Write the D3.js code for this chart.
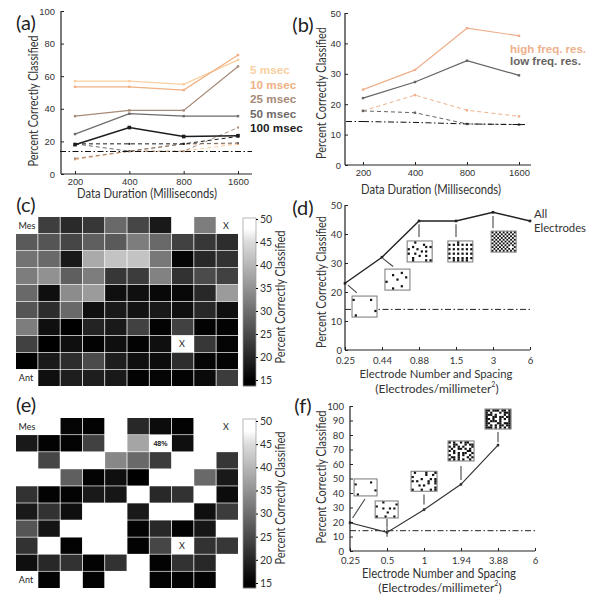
<!DOCTYPE html>
<html><head><meta charset="utf-8">
<script src="https://cdnjs.cloudflare.com/ajax/libs/d3/7.8.5/d3.min.js"></script>
<style>
html,body{margin:0;padding:0;background:#fff}
text{font-family:Lato,"Open Sans",sans-serif;fill:#333}
</style></head><body><svg id="c" width="600" height="597"></svg>
<script>
// ---------- data ----------
const durations=["200","400","800","1600"];
const msecLabels=["5 msec","10 msec","25 msec","50 msec","100 msec"];
const msecColors=["#f9cf9f","#eeb084","#a78a78","#6f6a67","#1c1c1c"];
const aSolid=[[57,57,55,70],[53.5,53.5,51.5,73],[35.5,39,39,66],[24.5,37,35.5,35.5],[18,28.5,23,23.5]];
const aDashed=[[9,14,14,18.5],[9,14,18.5,18.5],[9.5,14,14,28.5],[18.5,14,18.5,19],[18.5,18.5,18.5,23]];
const aChance=[13.8,13.8,13.8,13.8];
const freqLabels=["high freq. res.","low freq. res."];
const freqColors=["#eeb08c","#666462"];
const bSolid=[[24.8,31.3,45,42.5],[22,27.3,34.3,29.5]];
const bDashed=[[17.8,23,18,16],[17.8,17.2,13.5,13.3]];
const bChance=[14.3,14,13.5,13.3];
const dTicks=["0.25","0.44","0.88","1.5","3","6"];
const dValues=[23,32,44.5,44.5,47.5,44.5];
const dChance=14;
const fTicks=["0.25","0.5","1","1.94","3.88","6"];
const fValues=[19.5,12.8,28.5,46,73];
const fErr=[1,3,1,1,1];
const fChance=14;
const n=null;
const cGrid=[
[n,23.5,20.8,22.5,29.4,24.6,18.4,n,32.2,n],
[27.4,26.7,24.6,28,27.4,32.2,29.4,23.9,22.5,21.2],
[30.8,29.4,18.4,38.3,41.8,41.8,31.5,15.7,20.5,21.9],
[32.2,34.9,28,32.2,22.5,23.2,32.8,21.9,25.3,23.9],
[29.4,17.1,34.2,36.3,17.1,17.1,16.1,16.1,20.5,36.3],
[26.7,21.2,29.4,17.1,18.4,17.5,18.4,17.1,20.5,17.1],
[32.2,17.1,15,19.8,18.4,23.9,15.4,23.9,15.4,15.4],
[23.9,15,17.1,15.4,17.1,15.4,17.1,n,22.5,15.7],
[15,18.4,21.2,25.3,19.1,17.1,16.6,21.2,15.7,15.4],
[n,17.1,19.1,19.1,18.4,15.4,15.7,15.4,16.4,23.2]];
const eGrid=[
[n,n,15.7,15.4,n,20.5,16.6,15.4,n,n],
[18.4,15.4,15.4,23.9,n,37.6,48,17.1,n,n],
[n,24.6,n,n,33.5,29.4,23.2,n,n,22.5],
[n,n,28,15.4,17.1,15,n,n,29.4,18.4],
[21.9,15.4,15.4,18.4,18,n,20.5,21.9,n,16.6],
[18.4,21.9,17.1,n,n,18.4,n,n,17.1,23.2],
[26.7,17.7,n,n,n,15.4,20.5,15.4,18,n],
[21.9,n,15.4,n,n,15.4,24.6,n,21.9,22.5],
[17.1,20.5,21.9,15.4,21.9,n,15.4,21.9,20.5,n],
[n,15.4,n,15.4,n,n,15.4,15.4,15.4,n]];
const cbTicks=[50,45,40,35,30,25,20,15];
const dThumbs=[
{at:[0.19,18.6],bm:["...........","#.......#..","...........","...........","...........","...........","..........#","...........",".#........."]},
{at:[1.08,27.9],bm:["...........",".......#...","...#.......",".........#.",".....#.....","#..........","...........",".......#...","...#......."]},
{at:[1.68,37.6],bm:["...#.......",".......#...","..#.....#.#","#...#......","......#.#..","#..#.......",".....#..#..","..#........","..#.....#.#"]},
{at:[2.78,37.6],bm:["....#......","#.#.#.#.#.#","...........","#.#.#.#.#.#","...........","#.#.#.#.#.#","...........","#.#.#.#.#.#","..#.#.#.#.."]},
{at:[3.95,41],bm:["#.#.#.#.#.#.#",".#.#.#.#.#.#.","#.#.#.#.#.#.#",".#.#.#.#.#.#.","#.#.#.#.#.#.#",".#.#.#.#.#.#.","#.#.#.#.#.#.#",".#.#.#.#.#.#.","#.#.#.#.#...#",".#.#.#.#.#.#.","#.#.#.#.#.#.#"]}];
const fThumbs=[
{at:[0.11,49.7],h:17,w:23,bm:["..........",".......#..","#.........","..........","..........",".........#","..........",".#........"]},
{at:[0.68,34.5],h:17,w:23,bm:["...#......",".........#","#.........","...#..#.#.","..........",".....#....","..........","#...#...#."]},
{at:[1.65,55],h:20,w:26,bm:[".#....#...#","......#..#.","#..........","....#...#.#","#.#....#..#",".......#..#","...#.#.....","..........#","#...#...#.#"]},
{at:[2.65,75.9],h:20,w:26,bm:["#.#..#.##..","..##...#.##","#.#.#.#...#",".#..##.#.#.","#.#.....##.","..#.#.##..#","#...#.#..#.",".##.#...#.#","#.#.#.#..#."]},
{at:[3.65,97.9],h:20,w:26,bm:["##.###.##.#","#.#...#.###","###.#...#.#","#..##.##.##","##.#..#.#.#","#.###.#...#","##...##.###","#.#.#.##.##","###.#.#.#.#"]}];
const dLeaders=[[0.08,22.4,0.32,19.7],[1.03,31.5,1.3,28.8],[2,43.4,2,39],[3,43.4,3,39],[4,46.2,4,42]];
const fLeaders=[[0.07,22.8,0.405,35.9],[1,16,1,22],[2,32,2,39],[3,49,3,58.6],[4,75,4,82]];

// ---------- helpers ----------
const svg=d3.select("#c");
const DASHDOT="6,2.5,1.5,2.5",DASH="4,3";
function txt(x,y,s,o={}){const t=svg.append("text").attr("x",x).attr("y",y).attr("text-anchor",o.a||"middle")
 .attr("dominant-baseline","central").style("font-size",(o.s||12)+"px").text(s);
 if(o.c)t.style("fill",o.c); if(o.w)t.style("font-weight",o.w); if(o.f)t.style("font-family",o.f);
 if(o.len)t.attr("textLength",o.len).attr("lengthAdjust","spacingAndGlyphs");
 if(o.rot)t.attr("transform",`rotate(-90 ${x} ${y})`); return t;}
function axes(x,y,xExt,yExt,xFmt,yt,o={}){
 const g=svg.append("g");
 const ax=g.append("g").attr("transform",`translate(0,${yExt[0]})`).call(d3.axisBottom(x).tickSizeInner(-3).tickSizeOuter(0).tickPadding(o.xp).tickFormat(xFmt));
 const ay=g.append("g").attr("transform",`translate(${xExt[0]},0)`).call(d3.axisLeft(y).tickValues(yt).tickSizeInner(-3).tickSizeOuter(0).tickPadding(o.yp));
 [ax,ay].forEach(a=>{a.select(".domain").remove();a.selectAll(".tick line").attr("stroke","#222").attr("stroke-width",1);
  a.selectAll("text").style("font-size",(o.fs||9.5)+"px").style("font-family",o.ff||null).style("fill","#333");});
 g.append("line").attr("x1",xExt[0]).attr("x2",xExt[1]).attr("y1",yExt[0]).attr("y2",yExt[0]).attr("stroke","#222").attr("stroke-width",1.2);
 g.append("line").attr("x1",xExt[0]).attr("x2",xExt[0]).attr("y1",yExt[0]).attr("y2",yExt[1]).attr("stroke","#222").attr("stroke-width",1.2);
}
function series(x,y,vals,col,o={}){
 const cats=x.domain().slice(0,vals.length);
 const l=d3.line().x((d,i)=>x(cats[i])).y(d=>y(d));
 svg.append("path").attr("d",l(vals)).attr("fill","none").attr("stroke",col).attr("stroke-width",o.w||1.2).attr("stroke-dasharray",o.dash||null);
 if(o.m!==0) svg.append("g").selectAll("rect").data(vals).join("rect")
  .attr("x",(d,i)=>x(cats[i])-(o.m||1.5)).attr("y",d=>y(d)-(o.m||1.5)).attr("width",2*(o.m||1.5)).attr("height",2*(o.m||1.5)).attr("fill",col);
}
function thumbs(x,y,list,leaders,dW,dH){
 svg.append("g").selectAll("line").data(leaders).join("line")
  .attr("x1",d=>x(d[0])).attr("y1",d=>y(d[1])).attr("x2",d=>x(d[2])).attr("y2",d=>y(d[3])).attr("stroke","#444").attr("stroke-width",1.1);
 list.forEach(t=>{
  const w=t.w||dW,h=t.h||dH,x0=x(t.at[0]),y0=y(t.at[1]);
  svg.append("rect").attr("x",x0).attr("y",y0).attr("width",w).attr("height",h).attr("fill","#fff").attr("stroke","#777").attr("stroke-width",1);
  const bx=d3.scaleBand().domain(d3.range(t.bm[0].length)).range([x0+.5,x0+w-.5]);
  const by=d3.scaleBand().domain(d3.range(t.bm.length)).range([y0+.5,y0+h-.5]);
  const pts=t.bm.flatMap((r,j)=>[...r].map((c,i)=>c==="#"?[i,j]:null).filter(Boolean));
  svg.append("g").selectAll("rect").data(pts).join("rect").attr("x",d=>bx(d[0])).attr("y",d=>by(d[1]))
   .attr("width",bx.bandwidth()).attr("height",by.bandwidth()).attr("fill","#111");
 });
}
const TITLE=12.5;
function heat(grid,top,bottom,barTop,barBot,tick50,tick15,titleY){
 const x=d3.scaleBand().domain(d3.range(10)).range([16,238]).paddingInner(.035);
 const y=d3.scaleBand().domain(d3.range(10)).range([top,bottom]).paddingInner(.04);
 const gray=d3.scaleLinear().domain([15,45,48]).range([0,218.6,255]).clamp(true);
 const col=v=>{const g=Math.round(gray(v));return `rgb(${g},${g},${g})`;};
 svg.append("g").selectAll("rect").data(grid.flatMap((r,j)=>r.map((v,i)=>({v,i,j}))).filter(d=>d.v!==null))
  .join("rect").attr("x",d=>x(d.i)).attr("y",d=>y(d.j)).attr("width",x.bandwidth()).attr("height",y.bandwidth()).attr("fill",d=>col(d.v));
 const cb=d3.scaleLinear().domain([15,50]).range([tick15,tick50]);
 const ys=d3.range(barTop,barBot);
 svg.append("g").selectAll("rect").data(ys).join("rect").attr("x",243).attr("width",13).attr("y",d=>d).attr("height",1.2)
  .attr("fill",d=>col(cb.invert(d)));
 svg.append("rect").attr("x",243).attr("y",barTop).attr("width",13).attr("height",barBot-barTop).attr("fill","none").attr("stroke","#999").attr("stroke-width",.7);
 const a=svg.append("g").attr("transform","translate(256,0)").call(d3.axisRight(cb).tickValues(cbTicks).tickSize(2).tickPadding(2));
 a.select(".domain").remove();
 a.selectAll("text").style("font-size","10.5px");
 txt(280,titleY,"Percent Correctly Classified",{rot:1,s:TITLE,len:133});
 txt(27,y(0)+y.bandwidth()/2,"Mes",{s:9,c:"#222"});
 txt(26,y(9)+y.bandwidth()/2,"Ant",{s:9,c:"#222"});
 txt(226,y(0)+y.bandwidth()/2,"X",{s:9,c:"#222"});
 txt(182,y(7)+y.bandwidth()/2,"X",{s:9,c:"#222"});
 return {x,y};
}
const TK="'Liberation Sans', sans-serif";

// ---------- panel a ----------
{const x=d3.scalePoint().domain(durations).range([75,238]),y=d3.scaleLinear().domain([0,100]).range([174,11]);
 aDashed.forEach((v,i)=>series(x,y,v,msecColors[i],{dash:DASH,w:1,m:1}));
 svg.append("line").attr("x1",60).attr("x2",252).attr("y1",y(aChance[0])).attr("y2",y(aChance[0])).attr("stroke","#111").attr("stroke-dasharray",DASHDOT);
 aSolid.forEach((v,i)=>series(x,y,v,msecColors[i],{w:i==4?1.5:1.2,m:i==4?1.8:1.2}));
 axes(x,y,[61,252],[174,11],d=>d,[0,20,40,60,80,100],{fs:9.4,ff:TK,xp:4,yp:6});
 txt(33,101,"Percent Correctly Classified",{rot:1,s:TITLE,len:131});
 txt(147,193,"Data Duration (Milliseconds)",{s:TITLE,len:140});
 msecLabels.forEach((s,i)=>txt(250,[69,84,98,113,127][i],s,{a:"start",s:11.7,w:"bold",c:msecColors[i],f:TK}));
}
// ---------- panel b ----------
{const x=d3.scalePoint().domain(durations).range([363,519]),y=d3.scaleLinear().domain([0,50]).range([165,13]);
 bDashed.forEach((v,i)=>series(x,y,v,freqColors[i],{dash:DASH,w:1,m:1.2}));
 bSolid.forEach((v,i)=>series(x,y,v,freqColors[i],{w:1.2,m:1.2}));
 const ex=d3.scaleLinear().domain([0,3]).range([363,519]);
 svg.append("path").attr("d",d3.line().x((d,i)=>ex(i)).y(d=>y(d))(bChance)).attr("fill","none").attr("stroke","#111").attr("stroke-dasharray",DASHDOT);
 svg.append("line").attr("x1",346).attr("x2",363).attr("y1",y(bChance[0])).attr("y2",y(bChance[0])).attr("stroke","#111").attr("stroke-dasharray",DASHDOT);
 svg.append("line").attr("x1",519).attr("x2",527).attr("y1",y(bChance[3])).attr("y2",y(bChance[3])).attr("stroke","#111").attr("stroke-dasharray",DASHDOT);
 axes(x,y,[345,531],[165,13],d=>d,[0,10,20,30,40,50],{fs:9.4,ff:TK,xp:4,yp:4});
 txt(321,93,"Percent Correctly Classified",{rot:1,s:TITLE,len:132});
 txt(431,189,"Data Duration (Milliseconds)",{s:TITLE,len:140});
 freqLabels.forEach((s,i)=>txt(510,[49,61][i],s,{a:"start",s:11.5,w:"bold",c:freqColors[i],f:TK}));
}
// ---------- panel c, e ----------
heat(cGrid,217,386,218,386,219,380,297);
{const h=heat(eGrid,418,588,419,588,421,583,498);
 txt(h.x(6)+h.x.bandwidth()/2,h.y(1)+h.y.bandwidth()/2,"48%",{s:7,c:"#222",w:"bold",f:TK});}
// ---------- panel d ----------
{const xi=d3.scaleLinear().domain([0,5]).range([345,530]),y=d3.scaleLinear().domain([0,50]).range([350,205]);
 const x=d3.scalePoint().domain(dTicks).range([345,530]);
 svg.append("line").attr("x1",345).attr("x2",530).attr("y1",y(dChance)).attr("y2",y(dChance)).attr("stroke","#222").attr("stroke-dasharray",DASHDOT);
 series(x,y,dValues,"#222",{w:1.4,m:1.3});
 thumbs(xi,y,dThumbs,dLeaders,25,21);
 axes(x,y,[345,530],[350,205],d=>d,[0,10,20,30,40,50],{fs:9.6,xp:7,yp:3});
 txt(534,213,"All",{a:"start",s:11.5}); txt(534,227,"Electrodes",{a:"start",s:11.5,len:52});
 txt(321,282,"Percent Correctly Classified",{rot:1,s:TITLE,len:132});
 txt(436,373.5,"Electrode Number and Spacing",{s:12,len:153});
 const t=txt(437,388,"(Electrodes/millimeter",{s:12});
 t.append("tspan").attr("dy",-4).style("font-size","7px").text("2");
 t.append("tspan").attr("dy",4).text(")");
}
// ---------- panel f ----------
{const xi=d3.scaleLinear().domain([0,5]).range([350,535]),y=d3.scaleLinear().domain([0,100]).range([551,406]);
 const x=d3.scalePoint().domain(fTicks).range([350,535]);
 svg.append("line").attr("x1",350).attr("x2",535).attr("y1",y(fChance)).attr("y2",y(fChance)).attr("stroke","#222").attr("stroke-dasharray",DASHDOT);
 series(x,y,fValues,"#333",{w:1.2,m:1.2});
 svg.append("g").selectAll("line").data(fValues).join("line")
  .attr("x1",(d,i)=>xi(i)).attr("x2",(d,i)=>xi(i)).attr("y1",(d,i)=>y(d-fErr[i])).attr("y2",(d,i)=>y(d+fErr[i])).attr("stroke","#333");
 thumbs(xi,y,fThumbs,fLeaders,26,20);
 axes(x,y,[350,535],[551,406],d=>d,d3.range(0,101,10),{fs:9.6,xp:6,yp:6});
 txt(321,477,"Percent Correctly Classified",{rot:1,s:TITLE,len:133});
 txt(439,573,"Electrode Number and Spacing",{s:TITLE,len:154});
 const t=txt(440,587,"(Electrodes/millimeter",{s:12});
 t.append("tspan").attr("dy",-4).style("font-size","7px").text("2");
 t.append("tspan").attr("dy",4).text(")");
}
// ---------- panel letters ----------
[["(a)",26,22],["(b)",303,24],["(c)",26,204],["(d)",303,207],["(e)",26,404],["(f)",303,405]]
 .forEach(d=>txt(d[1],d[2],d[0],{s:20,c:"#222"}));
</script></body></html>
